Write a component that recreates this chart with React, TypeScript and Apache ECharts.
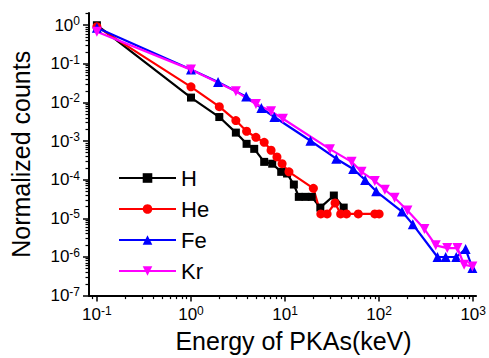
import React, { useEffect, useRef } from "react";
import * as echarts from "echarts";

const H_E = [0.1, 1, 2, 3, 3.9, 4.7, 6, 7.3, 9.1, 10.5, 12.4, 14, 16.5, 19.2, 23.7, 33, 42];
const H_C = [1.0, 0.0134, 0.0042, 0.00166, 8.5e-4, 6.3e-4, 2.9e-4, 2.6e-4, 1.6e-4, 1.45e-4, 7.5e-5, 3.6e-5, 3.6e-5, 3.6e-5, 1.9e-5, 3.9e-5, 1.9e-5];

const HE_E = [0.1, 1, 2, 3, 3.9, 4.9, 6, 7.1, 8.2, 9.3, 11, 20, 24, 28, 34, 39, 45, 60, 90, 100];
const HE_C = [0.92, 0.0254, 0.0078, 0.0034, 0.0018, 0.00125, 9.3e-4, 5.8e-4, 3.9e-4, 2.6e-4, 1.6e-4, 6e-5, 1.3e-5, 1.3e-5, 2.5e-5, 1.3e-5, 1.3e-5, 1.3e-5, 1.3e-5, 1.3e-5];

const FE_E = [0.1, 1, 1.94, 3.86, 5.6, 7.7, 18.6, 35, 53, 71, 93, 175, 228, 417, 510, 660, 830, 980];
const FE_C = [0.86, 0.071, 0.034, 0.0142, 0.0072, 0.0042, 0.00102, 3.5e-4, 1.9e-4, 9.9e-5, 5.0e-5, 1.5e-5, 7.0e-6, 1.0e-6, 1.0e-6, 1.0e-6, 1.6e-6, 5.2e-7];

const KR_E = [0.1, 1, 3, 4.9, 7.1, 9.5, 30, 51, 65, 90, 115, 146, 200, 303, 400, 530, 680, 800, 980];
const KR_C = [0.68, 0.071, 0.0194, 0.0091, 0.0059, 0.0038, 6.2e-4, 2.9e-4, 1.6e-4, 9.3e-5, 5.5e-5, 3.4e-5, 1.6e-5, 5.3e-6, 2.0e-6, 1.7e-6, 1.7e-6, 6.3e-7, 5.7e-7];

const X_DECADES = [-1, 0, 1, 2, 3];
const Y_DECADES = [-7, -6, -5, -4, -3, -2, -1, 0];
const X_RANGE = [-1.084, 3.03];
const Y_RANGE = [-7, 0.317];

const FONT = "'Liberation Sans', Arial, sans-serif";

function minorTicks(lo: number, hi: number): number[] {
  const out: number[] = [];
  for (let d = Math.floor(lo) - 1; d <= Math.ceil(hi); d++) {
    for (let k = 2; k <= 9; k++) {
      const v = d + Math.log10(k);
      if (v >= lo && v <= hi) out.push(v);
    }
  }
  return out;
}

function toPts(es: number[], cs: number[]) {
  return es.map((e, i) => [Math.log10(e), Math.log10(cs[i])]);
}

const rich = {
  b: { fontSize: 17, lineHeight: 20, fontFamily: FONT, color: "#000" },
  s: { fontSize: 12, lineHeight: 12, verticalAlign: "top", fontFamily: FONT, color: "#000" },
};

const fmt = (v: number) => `{b|10}{s|${Math.round(v)}}`;

export default function App() {
  const ref = useRef<HTMLDivElement>(null);
  useEffect(() => {
    const chart = echarts.init(ref.current!, null, { renderer: "svg" });
    const axisLine = { show: true, onZero: false, lineStyle: { color: "#000", width: 2 } };
    const mk = (name: string, e: number[], c: number[], color: string, symbol: string, size: number, rot = 0) => ({
      name,
      type: "line",
      data: toPts(e, c),
      xAxisIndex: 0,
      yAxisIndex: 0,
      symbol,
      symbolSize: size,
      symbolRotate: rot,
      showAllSymbol: true,
      color,
      lineStyle: { color, width: 2.2 },
      itemStyle: { color },
    });
    chart.setOption({
      animation: false,
      backgroundColor: "#fff",
      grid: { left: 88, right: 10, top: 13, bottom: 57, containLabel: false },
      xAxis: [
        {
          type: "value",
          min: X_RANGE[0],
          max: X_RANGE[1],
          position: "bottom",
          axisLine,
          splitLine: { show: false },
          axisTick: { show: true, customValues: X_DECADES, length: 6, lineStyle: { color: "#000", width: 1.5 } },
          axisLabel: { customValues: X_DECADES, formatter: fmt, rich, margin: 9 },
          name: "Energy of PKAs(keV)",
          nameLocation: "middle",
          nameGap: 31,
          nameTextStyle: { fontSize: 25, fontFamily: FONT, color: "#000", padding: [0, 0, 0, 22] },
        },
        {
          type: "value",
          min: X_RANGE[0],
          max: X_RANGE[1],
          position: "bottom",
          offset: 0,
          axisLine: { show: false, onZero: false },
          splitLine: { show: false },
          axisTick: { show: true, customValues: minorTicks(X_RANGE[0], X_RANGE[1]), length: 3.5, lineStyle: { color: "#000", width: 1.2 } },
          axisLabel: { show: false },
        },
      ],
      yAxis: [
        {
          type: "value",
          min: Y_RANGE[0],
          max: Y_RANGE[1],
          position: "left",
          axisLine,
          splitLine: { show: false },
          axisTick: { show: true, customValues: Y_DECADES, length: 6, lineStyle: { color: "#000", width: 1.5 } },
          axisLabel: { customValues: Y_DECADES, formatter: fmt, rich, margin: 9 },
          name: "Normalized counts",
          nameLocation: "middle",
          nameGap: 56,
          nameRotate: 90,
          nameTextStyle: { fontSize: 25, fontFamily: FONT, color: "#000" },
        },
        {
          type: "value",
          min: Y_RANGE[0],
          max: Y_RANGE[1],
          position: "left",
          offset: 0,
          axisLine: { show: false, onZero: false },
          splitLine: { show: false },
          axisTick: { show: true, customValues: minorTicks(Y_RANGE[0], Y_RANGE[1]), length: 3.5, lineStyle: { color: "#000", width: 1.2 } },
          axisLabel: { show: false },
        },
      ],
      legend: {
        orient: "vertical",
        left: 113,
        top: 162,
        itemWidth: 57,
        itemHeight: 12,
        itemGap: 9,
        textStyle: { fontSize: 22, fontFamily: FONT, color: "#000" },
        data: ["H", "He", "Fe", "Kr"],
      },
      series: [
        mk("H", H_E, H_C, "#000000", "rect", 8),
        mk("He", HE_E, HE_C, "#ff0000", "circle", 9),
        mk("Fe", FE_E, FE_C, "#0000ff", "triangle", 10),
        mk("Kr", KR_E, KR_C, "#ff00ff", "triangle", 10, 180),
      ],
    });
    return () => chart.dispose();
  }, []);
  return <div ref={ref} style={{ width: 489, height: 358, position: "absolute", left: 0, top: 0 }} />;
}
